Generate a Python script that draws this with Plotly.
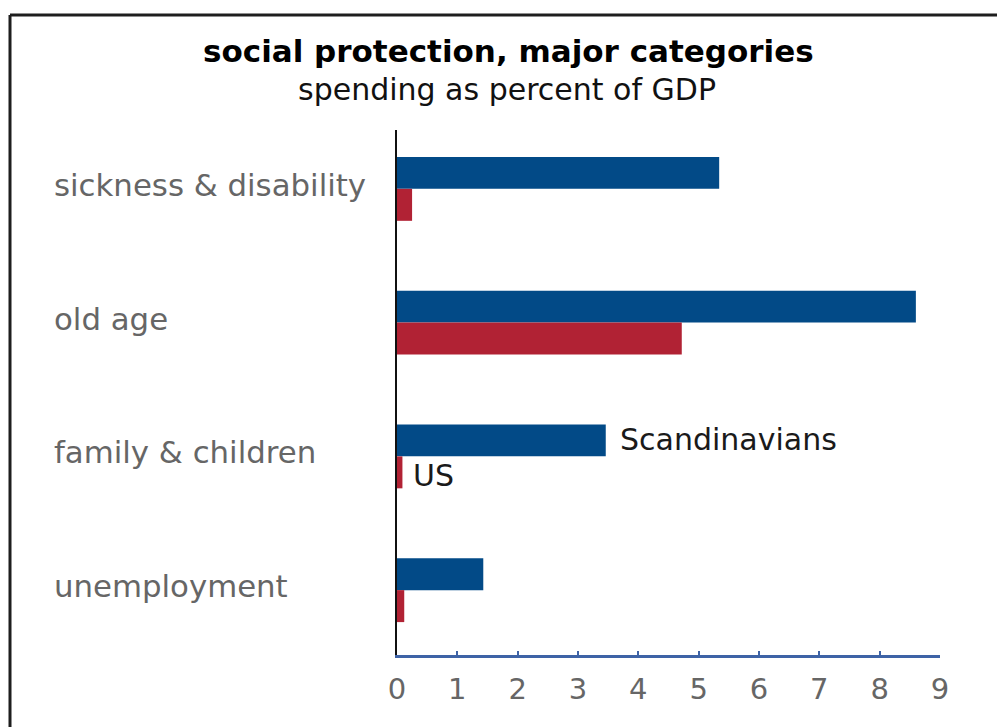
import plotly.graph_objects as go

# Social protection spending, percent of GDP
categories = ["sickness & disability", "old age", "family & children", "unemployment"]
scandinavians = [5.34, 8.60, 3.46, 1.43]
us = [0.25, 4.72, 0.09, 0.12]
x_ticks = [0, 1, 2, 3, 4, 5, 6, 7, 8, 9]

BLUE = "#024a87"
RED = "#b12234"
AXIS_BLUE = "#3e63a6"
LABEL_GREY = "#666666"
FONT = "DejaVu Sans"

W, H = 997, 727
ML, MR, MT, MB = 397, 57, 130, 72
PW = W - ML - MR
PH = H - MT - MB


def px_to_paper_x(px):
    return (px - ML) / PW


def px_to_paper_y(py):
    return (H - MB - py) / PH


fig = go.Figure()
fig.add_trace(go.Bar(y=categories, x=scandinavians, orientation="h",
                     marker=dict(color=BLUE, line=dict(width=0)),
                     name="Scandinavians", hoverinfo="x+y"))
fig.add_trace(go.Bar(y=categories, x=us, orientation="h",
                     marker=dict(color=RED, line=dict(width=0)),
                     name="US", hoverinfo="x+y"))

annotations = []
# category labels, left-aligned in the margin
for c in categories:
    annotations.append(dict(
        text=c, xref="paper", yref="y", x=px_to_paper_x(52), y=c,
        xanchor="left", yanchor="middle", showarrow=False, yshift=4,
        font=dict(family=FONT, size=30.8, color=LABEL_GREY)))

# series labels next to the family & children bars
fam = categories.index("family & children")
annotations.append(dict(
    text="Scandinavians", xref="x", yref="y", x=scandinavians[fam], y=categories[fam],
    xanchor="left", yanchor="middle", showarrow=False, xshift=12, yshift=17,
    font=dict(family=FONT, size=30, color="#1a1a1a")))
annotations.append(dict(
    text="US", xref="x", yref="y", x=us[fam], y=categories[fam],
    xanchor="left", yanchor="middle", showarrow=False, xshift=9, yshift=-19,
    font=dict(family=FONT, size=30, color="#1a1a1a")))

# title and subtitle
annotations.append(dict(
    text="social protection, major categories", xref="paper", yref="paper",
    x=px_to_paper_x(508), y=px_to_paper_y(51), xanchor="center", yanchor="middle",
    showarrow=False, font=dict(family=FONT, size=31, color="#000000", weight="bold")))
annotations.append(dict(
    text="spending as percent of GDP", xref="paper", yref="paper",
    x=px_to_paper_x(507), y=px_to_paper_y(89), xanchor="center", yanchor="middle",
    showarrow=False, font=dict(family=FONT, size=30, color="#111111")))

# outer frame: left and top edges (the rest runs off the page)
frame_line = dict(color="#1e1e1e", width=3)
shapes = [
    dict(type="line", xref="paper", yref="paper",
         x0=px_to_paper_x(10), y0=px_to_paper_y(760),
         x1=px_to_paper_x(10), y1=px_to_paper_y(15), line=frame_line),
    dict(type="line", xref="paper", yref="paper",
         x0=px_to_paper_x(10), y0=px_to_paper_y(15),
         x1=px_to_paper_x(1020), y1=px_to_paper_y(15), line=frame_line),
]

fig.update_layout(
    width=W, height=H,
    margin=dict(l=ML, r=MR, t=MT, b=MB, autoexpand=False),
    paper_bgcolor="white", plot_bgcolor="white",
    barmode="group", bargap=0.522, bargroupgap=0,
    showlegend=False,
    annotations=annotations, shapes=shapes,
    xaxis=dict(range=[0, 9], tickvals=x_ticks, ticktext=[str(t) for t in x_ticks],
               showgrid=False, zeroline=False,
               showline=True, linecolor=AXIS_BLUE, linewidth=2.5,
               ticks="inside", ticklen=4, tickwidth=2, tickcolor=AXIS_BLUE,
               ticklabelstandoff=6,
               tickfont=dict(family=FONT, size=29, color=LABEL_GREY),
               fixedrange=True),
    yaxis=dict(type="category", categoryorder="array", categoryarray=categories,
               range=[3.485, -0.44], showticklabels=False, showgrid=False,
               zeroline=False, showline=True, linecolor="#111111", linewidth=2,
               ticks="", fixedrange=True),
)

fig.write_html("out.html")
